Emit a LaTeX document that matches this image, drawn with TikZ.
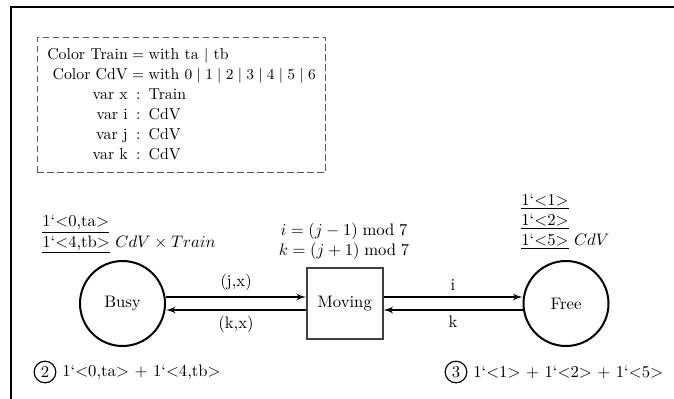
\documentclass[tikz,border=0pt]{standalone}
\usepackage{amsmath,amssymb}
\usetikzlibrary{arrows,positioning,calc}

\begin{document}
\begin{tikzpicture}[x=0.6pt, y=-0.6pt, node distance=84pt, auto]
\tikzstyle{place} = [circle, draw, line width=1.2pt, minimum size=51pt, inner sep=0pt]
\tikzstyle{transition} = [rectangle, draw=black!75, line width=0.9pt, minimum width=45.6pt, minimum height=42.6pt]
\tikzstyle{arc} = [draw, -latex', line width=1pt]
\tikzstyle{decl} = [rectangle, draw=black!65, dash pattern=on 4pt off 2pt, line width=0.6pt, inner xsep=6pt, inner ysep=4.5pt, font=\fontsize{9.5}{12}\selectfont]
\tikzstyle{token} = [circle, draw, line width=0.7pt, inner sep=0pt, minimum size=13pt]

\useasboundingbox (0,0) rectangle (674,398);
\clip (0,0) rectangle (674,398);
\draw [line width=1.2pt] (11,420) |- (700,7);

\node (decl) [decl] at (181.5,105) {\begin{tabular}{@{}r@{\;}c@{\;}l@{}}
Color Train & $=$ & with ta $\mid$ tb\\
Color CdV & $=$ & with $0 \mid 1 \mid 2 \mid 3 \mid 4 \mid 5 \mid 6$\\
var x & : & Train\\
var i & : & CdV\\
var j & : & CdV\\
var k & : & CdV
\end{tabular}};

\node (busy) [place] at (122.5,303.5) {Busy};
\node (moving) [transition, right=84pt of busy] {Moving};
\node (free) [place, right=83.4pt of moving] {Free};

\node (busyinit) [anchor=west, inner sep=0pt] at (42,233) {\begin{tabular}{@{}l@{}}\underline{1`$<$0,ta$>$}\\\underline{1`$<$4,tb$>$} $CdV \times Train$\end{tabular}};
\node (freeinit) [anchor=west, inner sep=0pt] at (521,221.5) {\begin{tabular}{@{}l@{}}\underline{1`$<$1$>$}\\\underline{1`$<$2$>$}\\\underline{1`$<$5$>$} $CdV$\end{tabular}};
\node (guard) [align=center] at (344,241.5) {$i = (j-1) \bmod 7$\\$k = (j+1) \bmod 7$};

\node (bmark) [token] at (45,372) {2};
\node (btok) [right=0pt of bmark] {1`$<$0,ta$>$ $+$ 1`$<$4,tb$>$};
\node (fmark) [token] at (456,372) {3};
\node (ftok) [right=0pt of fmark] {1`$<$1$>$ $+$ 1`$<$2$>$ $+$ 1`$<$5$>$};

\draw [arc] ([yshift=3.9pt]busy.east) -- ([yshift=3.9pt]moving.west) node [midway, above] {(j,x)};
\draw [arc] ([yshift=-3.9pt]moving.west) -- ([yshift=-3.9pt]busy.east) node [midway, below] {(k,x)};
\draw [arc] ([yshift=3.9pt]moving.east) -- ([yshift=3.9pt]free.west) node [midway, above] {i};
\draw [arc] ([yshift=-3.9pt]free.west) -- ([yshift=-3.9pt]moving.east) node [midway, below] {k};
\end{tikzpicture}
\end{document}
